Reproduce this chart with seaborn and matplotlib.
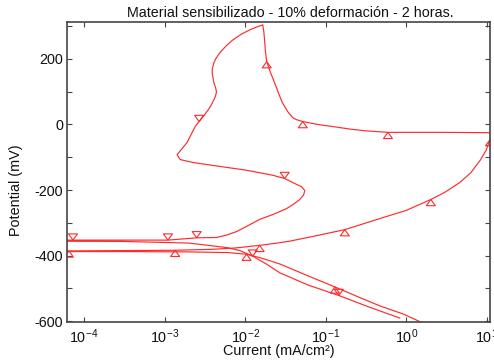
import matplotlib
matplotlib.use("Agg")
import matplotlib.pyplot as plt
from matplotlib.path import Path
from matplotlib.ticker import MultipleLocator, NullLocator, LogLocator
import pandas as pd
import seaborn as sns

title = "Material sensibilizado - 10% deformación - 2 horas."
x_label = "Current (mA/cm²)"
y_label = "Potential (mV)"

# Forward scan: cathodic branch -> Ecorr -> active peak -> passivation -> vertex
fwd_i = [1.60, 0.90, 0.47, 0.25, 0.13, 0.06, 0.027, 0.016, 0.0104, 0.006,
         0.002, 3e-4, 2e-5,
         2e-5, 6.5e-5, 3e-4, 1.35e-3, 0.004, 0.0075, 0.0151, 0.025, 0.036,
         0.075, 0.172, 0.5, 1.0, 2.01, 3.0, 4.6, 6.3, 8.2, 9.7, 10.9, 11.6,
         10.5, 3.0, 1.0, 0.59, 0.3, 0.2, 0.12, 0.08, 0.0518, 0.043, 0.0388,
         0.034, 0.029, 0.026, 0.0232, 0.0205, 0.0191, 0.0185, 0.0178, 0.0174,
         0.0170, 0.0165]
fwd_E = [-606, -578, -554, -526, -496, -462, -426, -408, -396, -391,
         -389, -388, -388,
         -385, -386, -385, -384, -381, -377, -369, -362, -356,
         -340, -321, -285, -262, -229, -207, -177, -147, -110, -80, -46, -32,
         -25, -24, -24, -24, -19, -14, -6, 0, 9, 15, 21,
         38, 66, 95, 127, 160, 182, 192, 225, 258,
         285, 304]

# Reverse scan: vertex -> loop -> second Ecorr -> cathodic branch
rev_i = [0.0165, 0.0140, 0.0114, 0.0090, 0.0070, 0.0058, 0.0048, 0.0043,
         0.0041, 0.0039, 0.0039, 0.0040, 0.0041, 0.0043, 0.0044, 0.0043,
         0.0041, 0.0038, 0.0035, 0.0031, 0.00268, 0.0024, 0.0022, 0.0019,
         0.00143, 0.00156, 0.00225, 0.0035, 0.0059, 0.010, 0.015, 0.022,
         0.0309, 0.041, 0.050, 0.0549, 0.053, 0.0476, 0.040, 0.0325, 0.022,
         0.015, 0.011, 0.0078, 0.0060, 0.0044, 0.0025, 0.0011, 7.3e-5, 2e-5,
         2e-5, 3e-4, 2e-3, 0.006, 0.0086, 0.0124, 0.018, 0.027, 0.06, 0.145,
         0.35, 0.83]
rev_E = [304, 298, 289, 276, 258, 240, 218, 200,
         189, 170, 157, 140, 127, 112, 100, 88,
         76, 60, 46, 28, 9, -6, -24, -55,
         -92, -107, -116, -123, -131, -139, -147, -155,
         -165, -180, -190, -202, -215, -229, -243, -257, -275,
         -290, -308, -327, -337, -345, -346, -353, -353, -353,
         -356, -357, -362, -376, -385, -402, -425, -453, -490, -522,
         -558, -591]

# Scan-direction markers (triangle tip sits on the curve)
fwd_mark_i = [0.13, 0.0104, 6.5e-5, 1.35e-3, 0.0151, 0.172, 2.01, 10.9,
              0.59, 0.0518, 0.0185]
fwd_mark_E = [-496, -396, -386, -384, -369, -321, -229, -46,
              -24, 9, 192]
rev_mark_i = [0.00268, 0.0309, 0.0025, 0.0011, 7.3e-5, 0.0124, 0.145]
rev_mark_E = [9, -165, -346, -353, -353, -402, -522]

RED = "#ff2a2a"
FRAME = "#454545"

sns.set_theme(style="ticks")
plt.rcParams["font.family"] = ["Liberation Sans", "DejaVu Sans"]
plt.rcParams["axes.unicode_minus"] = False

fig = plt.figure(figsize=(4.94, 3.64), dpi=100)
ax = fig.add_axes([0.1366, 0.1154, 0.8563, 0.8242])
ax.set_xscale("log")

fwd = pd.DataFrame({"i": fwd_i, "E": fwd_E})
rev = pd.DataFrame({"i": rev_i, "E": rev_E})
sns.lineplot(data=fwd, x="i", y="E", sort=False, estimator=None,
             color=RED, linewidth=0.85, ax=ax)
sns.lineplot(data=rev, x="i", y="E", sort=False, estimator=None,
             color=RED, linewidth=0.85, ax=ax)

up_tri = Path([(0, 0), (-1, -1.38), (1, -1.38), (0, 0)],
              [Path.MOVETO, Path.LINETO, Path.LINETO, Path.CLOSEPOLY])
down_tri = Path([(0, 0), (-1, 1.38), (1, 1.38), (0, 0)],
                [Path.MOVETO, Path.LINETO, Path.LINETO, Path.CLOSEPOLY])

sns.scatterplot(x=fwd_mark_i, y=fwd_mark_E, marker=up_tri, s=80,
                facecolors="none", edgecolor=RED, linewidth=0.8, ax=ax)
sns.scatterplot(x=rev_mark_i, y=rev_mark_E, marker=down_tri, s=80,
                facecolors="none", edgecolor=RED, linewidth=0.8, ax=ax)

ax.set_xlim(6.24e-5, 11.05)
ax.set_ylim(-603, 313)

ax.xaxis.set_major_locator(LogLocator(base=10))
ax.xaxis.set_minor_locator(NullLocator())
ax.yaxis.set_major_locator(MultipleLocator(200))
ax.yaxis.set_minor_locator(MultipleLocator(100))
ax.tick_params(which="both", direction="in", top=True, right=True,
               length=3.6, width=0.8, color=FRAME, labelsize=10.4,
               labelcolor="#111111")
ax.tick_params(axis="x", pad=4)
ax.tick_params(axis="y", pad=3)
for sp in ax.spines.values():
    sp.set_color(FRAME)
    sp.set_linewidth(1.2)

ax.set_xlabel(x_label, fontsize=10.4, color="#111111")
ax.set_ylabel(y_label, fontsize=10.4, color="#111111")
ax.xaxis.set_label_coords(0.5, -0.075)
ax.yaxis.set_label_coords(-0.105, 0.44)

fig.text(0.588, 0.953, title, ha="center", va="baseline",
         fontsize=10.3, color="#111111")

fig.savefig("out.png", dpi=100)
